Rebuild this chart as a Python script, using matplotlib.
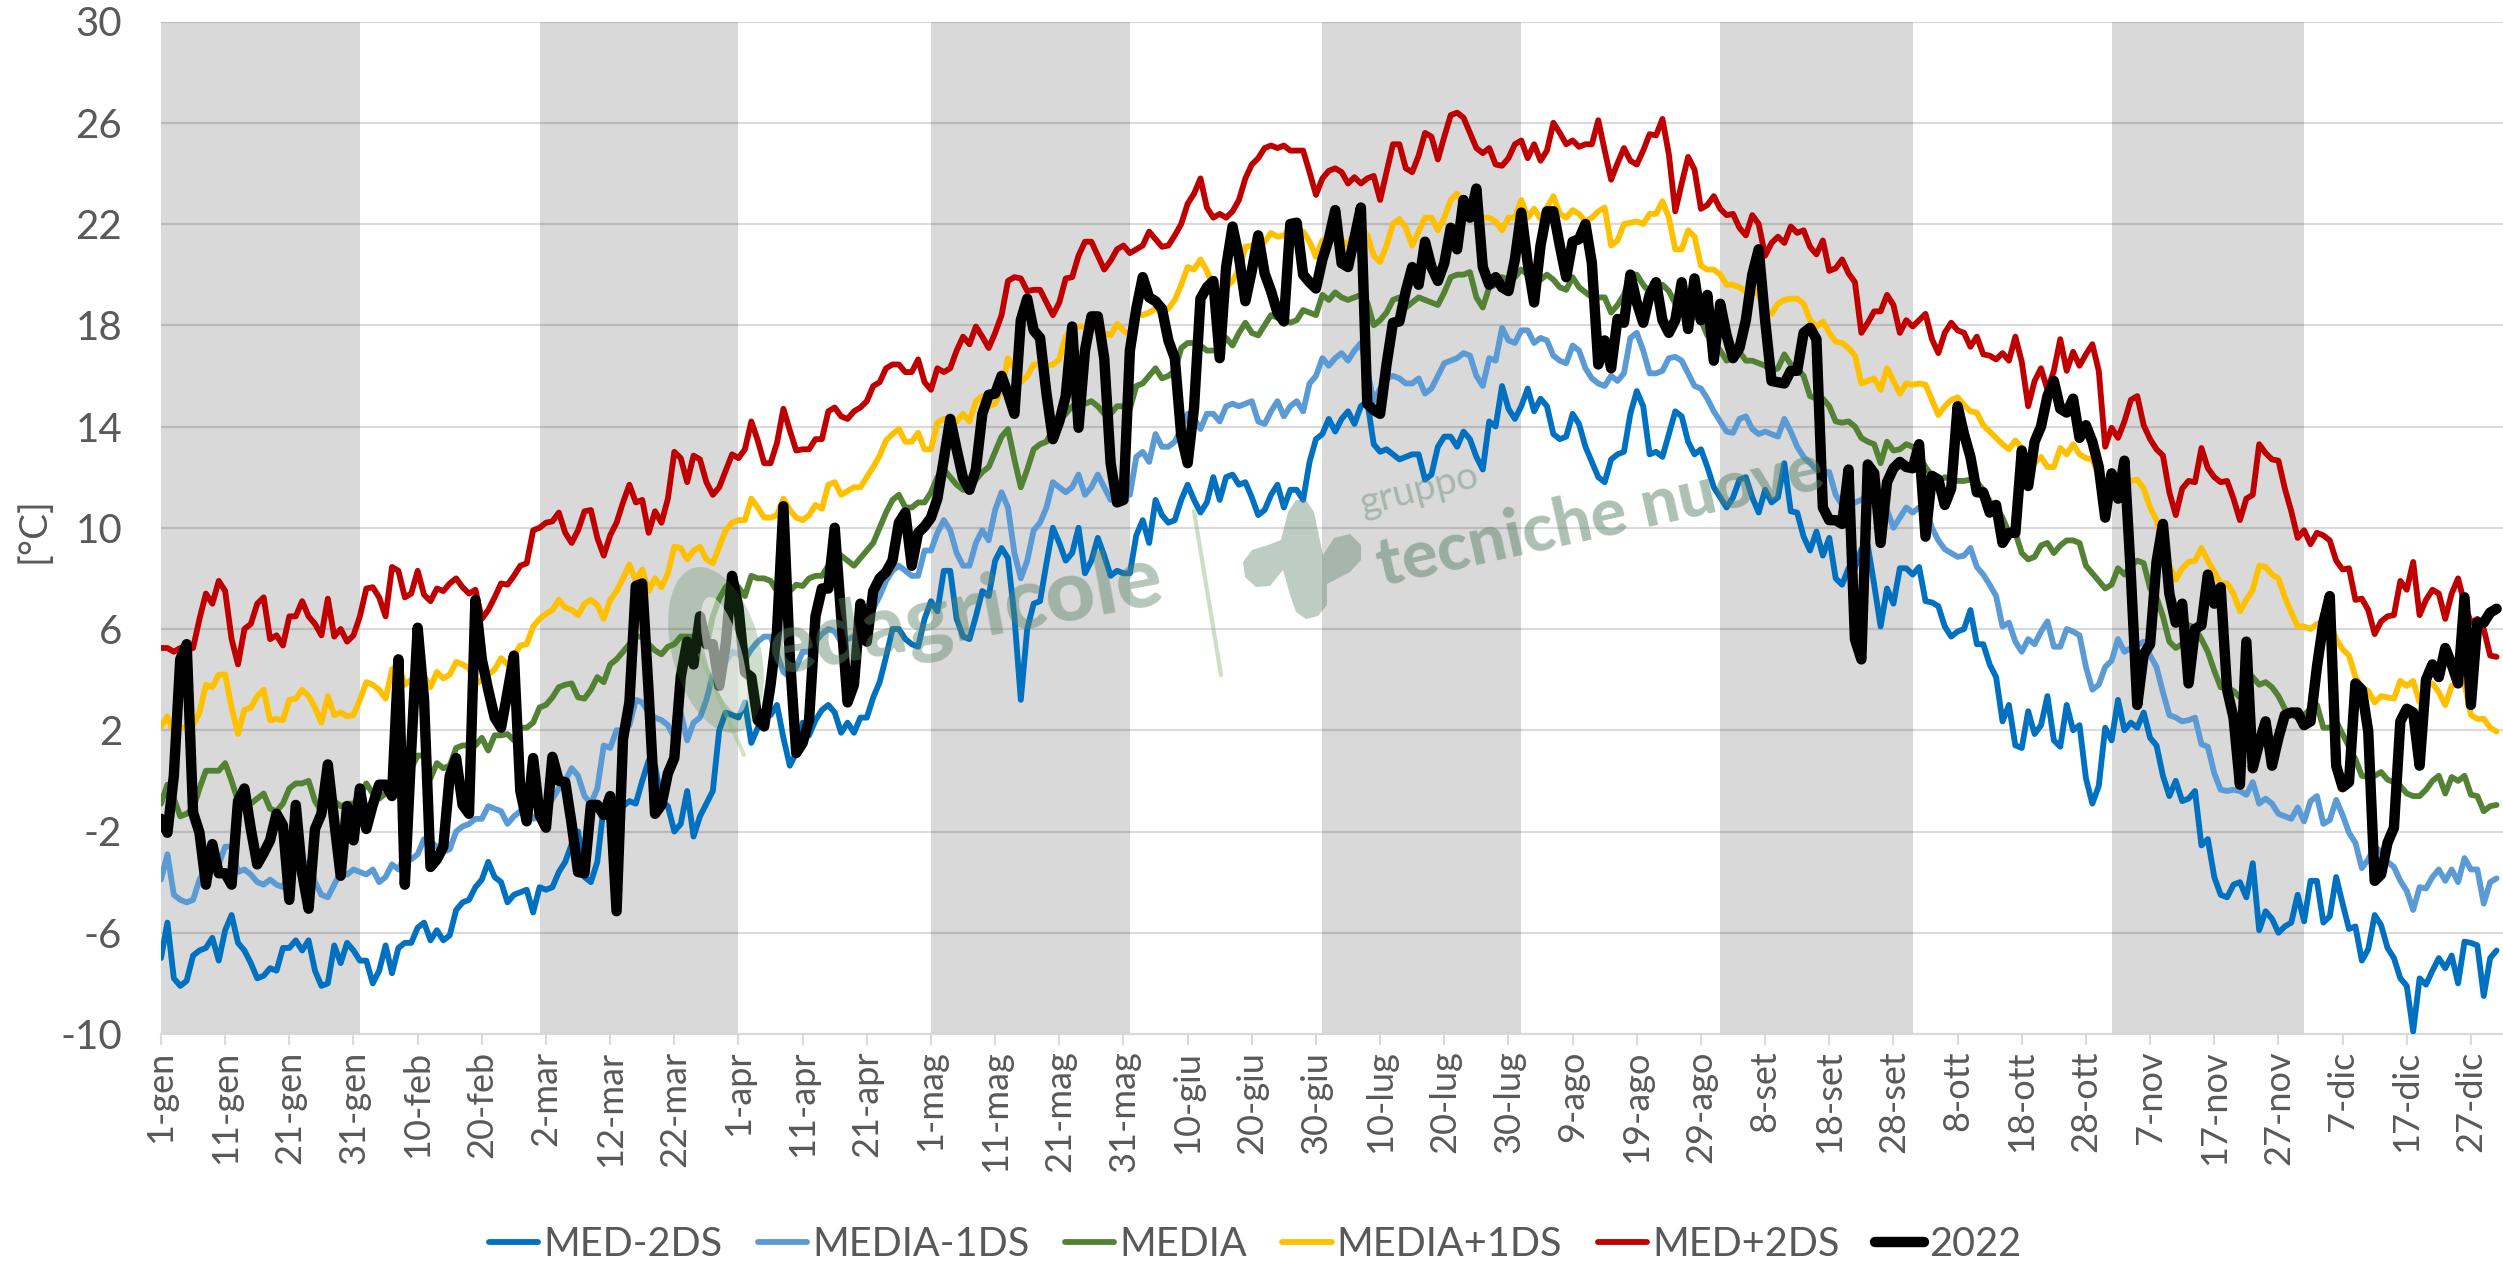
import matplotlib
matplotlib.use("Agg")
import matplotlib.pyplot as plt
from matplotlib.lines import Line2D
from matplotlib.patches import Ellipse, Polygon
from matplotlib.transforms import IdentityTransform

plt.rcParams['font.family'] = ['Lato', 'DejaVu Sans']
plt.rcParams['axes.unicode_minus'] = False

W, H = 2503, 1262
GREY = '#595959'

tick_labels = ['1-gen', '11-gen', '21-gen', '31-gen', '10-feb', '20-feb', '2-mar', '12-mar', '22-mar',
               '1-apr', '11-apr', '21-apr', '1-mag', '11-mag', '21-mag', '31-mag', '10-giu', '20-giu',
               '30-giu', '10-lug', '20-lug', '30-lug', '9-ago', '19-ago', '29-ago', '8-set', '18-set',
               '28-set', '8-ott', '18-ott', '28-ott', '7-nov', '17-nov', '27-nov', '7-dic', '17-dic', '27-dic']
y_ticks = [-10, -6, -2, 2, 6, 10, 14, 18, 22, 26, 30]

# first and last day of the shaded months (gen, mar, mag, lug, set, nov)
band_starts = [0, 59, 120, 181, 243, 304]
band_ends = [31, 90, 151, 212, 273, 334]

# one row = 10 days, each row starts on a tick label
med_m2 = [
    -7, -5.6, -7.8, -8.1, -7.9, -6.9, -6.7, -6.6, -6.2, -7.1,
    -5.9, -5.3, -6.4, -6.7, -7.2, -7.8, -7.7, -7.4, -7.5, -6.6,
    -6.6, -6.3, -6.7, -6.3, -7.5, -8.1, -8, -6.5, -7.2, -6.4,
    -6.7, -7.1, -7.1, -8, -7.5, -6.5, -7.6, -6.6, -6.4, -6.4,
    -5.8, -5.6, -6.3, -5.9, -6.3, -6.1, -5.1, -4.8, -4.7, -4.2,
    -3.9, -3.2, -3.8, -4, -4.8, -4.5, -4.4, -4.3, -5.2, -4.2,
    -4.3, -4.2, -3.6, -3.2, -2.5, -2, -3.8, -4, -3.2, -1,
    -1, -1, -1, -0.8, -0.9, 0, 0.8, 0.6, -0.8, -1,
    -2, -1.7, -0.4, -2.2, -1.4, -0.9, -0.4, 2, 2.7, 2.6,
    2.5, 3.1, 1.5, 2.1, 2.6, 2.6, 3, 1.7, 0.6, 1.1,
    2.3, 1.8, 2.4, 2.8, 3, 2.7, 1.9, 2.3, 1.9, 2.5,
    2.5, 3.3, 3.9, 4.9, 6, 6, 5.6, 5.4, 5.3, 6.4,
    7.1, 6.7, 8.3, 8.3, 6.4, 5.7, 5.6, 6.5, 7.5, 7.3,
    8.7, 9.2, 8.8, 6.5, 3.2, 6, 7, 7.1, 8.6, 10,
    9.4, 8.7, 9, 10, 8.2, 8.7, 9.6, 8.9, 8.1, 8.3,
    8.2, 8.2, 9.7, 10.3, 9.4, 11.1, 10.5, 10.2, 10.3, 11.1,
    11.7, 11.1, 10.6, 11, 12, 11.1, 12, 12.1, 11.7, 11.8,
    11.2, 10.5, 10.7, 11.3, 11.7, 10.8, 11.5, 11.5, 11.1, 12.6,
    13.5, 13.7, 14.3, 13.8, 14.3, 14.6, 14.1, 14.8, 15, 13.3,
    13, 13.1, 12.9, 12.7, 12.8, 12.9, 12.9, 11.9, 12.1, 13.2,
    13.6, 13.6, 13.2, 13.8, 13.5, 12.8, 12.3, 14.2, 14, 15.6,
    14.7, 14.3, 14.8, 15.5, 14.6, 15.1, 14.8, 13.7, 13.5, 13.6,
    14.5, 14.1, 13.2, 12.6, 12, 11.8, 12.7, 12.9, 13, 14.5,
    15.4, 14.8, 12.9, 13, 12.8, 13.7, 14.6, 14.4, 13.4, 12.9,
    13.1, 12.4, 11.6, 11.2, 10.8, 11.2, 11.9, 12, 11.2, 10.6,
    11.5, 11, 11.2, 12.55, 10.65, 10.6, 9.65, 9.1, 9.85, 8.9,
    9.6, 8, 7.75, 8.4, 8.4, 9.15, 9.3, 7.75, 6.1, 7.6,
    7, 8.4, 8.4, 8.15, 8.45, 7.1, 7.05, 6.9, 6.1, 5.7,
    5.9, 6, 6.75, 5.4, 5.4, 4.6, 4.1, 2.35, 3, 1.4,
    1.3, 2.75, 1.85, 2.2, 3.35, 1.6, 1.35, 3, 2, 2.2,
    0.1, -0.9, -0.2, 2.1, 1.6, 3.2, 2, 2.3, 2.1, 2.7,
    1.7, 1.4, 0.2, -0.6, 0, -0.8, -0.7, -0.4, -2.55, -2.3,
    -3.8, -4.5, -4.6, -4.1, -4, -4.6, -3.25, -5.9, -5.15, -5.45,
    -6, -5.75, -5.6, -4.5, -5.55, -3.95, -3.95, -5.6, -5.35, -3.8,
    -4.85, -5.85, -5.75, -7.1, -6.65, -5.3, -5.7, -6.6, -7, -7.8,
    -8.1, -9.9, -7.8, -8.05, -7.5, -7, -7.4, -6.9, -8, -6.35,
    -6.4, -6.5, -8.5, -7, -6.7]

media_m1 = [
    -3.9, -2.9, -4.5, -4.7, -4.8, -4.7, -3.9, -3.5, -3.3, -3.3,
    -2.6, -2.6, -3.6, -3.5, -3.7, -4, -4.1, -3.9, -4.1, -4.2,
    -3.6, -3.4, -3.6, -3.2, -4, -4.5, -4.6, -4.1, -3.6, -3.7,
    -3.5, -3.6, -3.7, -3.5, -4, -3.8, -3.3, -3.5, -3, -3.1,
    -2.9, -2.3, -2.4, -2.6, -2.8, -2.7, -2, -1.8, -1.7, -1.5,
    -1.5, -1, -1.1, -1.2, -1.7, -1.4, -1.2, -1.1, -1.5, -1.4,
    -1.2, -0.7, -0.3, 0, 0.5, 0.2, -0.6, -0.9, -0.3, 1.4,
    1.3, 2, 2, 2.2, 3.2, 3.1, 2.7, 2.5, 2.4, 2.2,
    1.7, 2.7, 1.6, 2.3, 2.5, 3.2, 4.2, 4.5, 4.7, 5.1,
    5, 4.8, 5.2, 5.5, 5.7, 5.7, 5, 4.3, 4.1, 4.5,
    5.1, 5.1, 5.5, 5.8, 6, 5.9, 5.5, 5.6, 5.7, 6,
    6.4, 6.8, 7.3, 7.9, 8.3, 8.5, 8.3, 8.1, 8.1, 9.1,
    9.1, 9.8, 10.3, 9.9, 9, 8.5, 8.5, 9.4, 9.9, 9.5,
    10.7, 11.4, 10.8, 9, 8, 8.7, 9.9, 10.2, 10.8, 11.8,
    11.6, 11.4, 11.6, 12.1, 11.3, 11.6, 12.1, 11.6, 11.1, 11.3,
    11.4, 11.3, 12.8, 13, 12.6, 13.7, 13.2, 13.2, 13.4, 13.9,
    14.5, 14.3, 13.9, 14.5, 14.5, 14.2, 14.8, 14.9, 14.8, 14.9,
    15, 14.2, 14.1, 14.6, 15, 14.4, 14.8, 15, 14.6, 15.7,
    16, 16.7, 16.4, 16.7, 16.9, 16.6, 17, 17.3, 16.2, 15,
    15.5, 15.9, 16, 15.9, 15.7, 15.7, 15.9, 15.3, 15.5, 16,
    16.5, 16.6, 16.7, 16.9, 16.8, 16, 15.6, 16.7, 16.6, 17.9,
    17.4, 17.3, 17.8, 17.8, 17.3, 17.5, 17.4, 16.8, 16.6, 16.5,
    17.2, 17, 16.3, 15.9, 15.7, 15.6, 16, 15.8, 16.1, 17.5,
    17.7, 17, 16.1, 16.1, 16.2, 16.7, 16.75, 16.6, 16.1, 15.6,
    15.5, 15.1, 14.6, 14.2, 13.8, 13.75, 14.3, 14.4, 13.9, 13.7,
    13.8, 13.7, 13.6, 14.3, 13.8, 13.2, 12.8, 12.55, 12.3, 12.2,
    12.2, 11.3, 10.9, 10.9, 11, 11.1, 11.3, 11.55, 11.15, 10.7,
    10, 10.4, 10.8, 10.6, 10.8, 10.8, 10, 9.5, 9.15, 9,
    8.85, 8.9, 9.2, 8.45, 8.15, 7.75, 7.3, 6.1, 6.25, 5.5,
    5.1, 5.6, 5.4, 5.9, 6.3, 5.3, 5.3, 6, 5.9, 5.75,
    4.5, 3.6, 3.8, 4.5, 4.75, 5.6, 5.1, 5.25, 5.35, 5.5,
    4.95, 4.5, 3.5, 2.6, 2.5, 2.35, 2.4, 2.5, 1.45, 1.35,
    0.3, -0.35, -0.4, -0.35, -0.4, -0.55, -0.05, -0.9, -0.7, -0.9,
    -1.3, -1.4, -1.5, -1.05, -1.6, -0.8, -0.6, -1.7, -1.55, -0.75,
    -1.35, -2.05, -2.45, -3.45, -3.1, -2.6, -2.8, -3.2, -3.4, -3.95,
    -4.35, -5.1, -4.2, -4.25, -3.8, -3.5, -3.95, -3.5, -4, -3.05,
    -3.5, -3.5, -4.85, -4, -3.85]

media = [
    -0.9, -0.15, -0.7, -1.4, -1.3, -1.1, -0.3, 0.4, 0.4, 0.4,
    0.7, 0, -0.8, -0.9, -0.9, -0.7, -0.5, -1.1, -1.2, -0.9,
    -0.3, -0.1, -0.1, 0, -0.8, -1.2, -0.7, -0.8, -1, -0.9,
    -0.9, -0.6, -0.1, -0.5, -0.7, -0.5, -0.3, -0.1, 0.2, 0.5,
    1, 1, 0.1, 0.7, 0.5, 0.6, 1.3, 1.4, 1.4, 1.4,
    1.7, 1.2, 1.8, 1.8, 1.85, 1.6, 2.1, 2.1, 2.3, 2.9,
    3, 3.3, 3.7, 3.8, 3.85, 3.3, 3.25, 3.6, 4.1, 3.9,
    4.6, 4.8, 5.1, 5.4, 5.7, 5.7, 5.4, 5.15, 5, 5.3,
    5.4, 5.7, 5.7, 5.7, 5.7, 5.3, 6.5, 7.2, 7.65, 7.9,
    7.65, 7.3, 8.1, 8, 8, 7.9, 7.5, 7.2, 7.5, 7.75,
    7.7, 8, 8.1, 8.1, 8.5, 9.1, 8.9, 8.7, 8.5, 8.8,
    9.1, 9.4, 10, 10.6, 11.1, 11.3, 10.8, 10.8, 11, 11,
    11.4, 12, 12.3, 12, 11.7, 11.5, 11.5, 11.9, 12.2, 12.4,
    13, 13.6, 13.9, 12.7, 11.6, 12.3, 13.1, 13.3, 13.4, 13.9,
    14.2, 14.5, 14.8, 14.8, 14.9, 15, 14.8, 14.5, 14.5, 14.8,
    14.8, 14.7, 15.6, 15.7, 16, 16.3, 15.9, 16, 16.2, 17.1,
    17.3, 17.3, 17.2, 17, 17, 17, 17.5, 17.2, 17.7, 18.1,
    17.7, 17.6, 18, 18.4, 18.3, 18.2, 18.1, 18.2, 18.6, 18.5,
    18.4, 19.2, 19, 19.3, 19.1, 19, 19.1, 19.2, 18.9, 18,
    18.2, 18.5, 19, 19.1, 18.7, 18.9, 19.1, 19, 18.9, 18.8,
    19.3, 19.9, 20, 20, 20.1, 19.1, 18.7, 19.5, 19.6, 19.9,
    19.8, 19.9, 20.2, 20, 19.8, 19.8, 20, 19.8, 19.5, 19.4,
    19.9, 19.5, 19.3, 19.1, 19.1, 19.1, 18.5, 18.8, 19.2, 20,
    20, 19.6, 19.3, 19.2, 19.6, 19.35, 18.85, 18.6, 18.35, 18.35,
    18.2, 17.6, 17.3, 17, 16.6, 16.7, 16.95, 16.6, 16.6, 16.5,
    16.4, 16.2, 16.3, 16.85, 16.45, 16.3, 16, 15.2, 15.1, 15.1,
    14.8, 14.2, 14.15, 14.2, 14, 13.55, 13.4, 13.3, 12.55, 13.4,
    13.05, 13.1, 13.3, 13.2, 12.85, 12.4, 12.05, 11.8, 12, 11.9,
    11.85, 11.85, 11.9, 11.8, 11.5, 11.05, 10.8, 10.4, 9.8, 9.8,
    9, 8.75, 8.85, 9.3, 9.4, 9, 9.3, 9.5, 9.5, 9.4,
    8.5, 8.2, 7.9, 7.6, 7.75, 8.4, 8.15, 8.5, 8.7, 8.6,
    7.6, 7.25, 6.5, 5.5, 5.25, 5.4, 6.15, 6.05, 5.6, 5.1,
    4.35, 3.7, 3.7, 3.55, 3.3, 3.8, 4.1, 3.8, 3.9, 3.7,
    3.35, 2.85, 2.6, 2.5, 2.6, 2.85, 3, 2.1, 2.1, 2.35,
    1.85, 1.35, 0.85, 0.2, 0.15, 0.2, 0.35, 0.05, -0.05, -0.2,
    -0.5, -0.6, -0.6, -0.35, 0, 0.2, -0.5, 0.15, 0, 0.2,
    -0.55, -0.6, -1.2, -1, -0.95]

media_p1 = [
    2.15, 2.55, 1.9, 2.1, 2.1, 2.2, 2.7, 3.8, 3.7, 4.2,
    4.2, 2.9, 1.85, 2.8, 2.9, 3.35, 3.6, 2.4, 2.45, 2.4,
    3.2, 3.25, 3.6, 3.35, 2.9, 2.3, 3.35, 2.6, 2.7, 2.55,
    2.6, 3.2, 3.9, 3.8, 3.6, 3.25, 4.4, 4.6, 3.8, 4,
    4.2, 4.15, 3.7, 4.3, 4.05, 4.2, 4.7, 4.6, 4.45, 3.8,
    4, 4.2, 4.4, 4.85, 4.6, 4.95, 5.35, 5.4, 6.1, 6.4,
    6.6, 6.75, 7.15, 6.85, 6.75, 6.55, 7, 7.15, 6.95, 6.4,
    7.15, 7.5, 8, 8.55, 7.9, 8.35, 7.5, 8, 7.65, 8.2,
    9.25, 9.2, 8.75, 9.1, 9.25, 8.75, 8.6, 9.25, 9.9, 10.2,
    10.3, 10.3, 11.15, 10.8, 10.4, 10.4, 10.5, 11.15, 10.7, 10.4,
    10.3, 10.5, 10.9, 10.75, 11.7, 11.8, 11.3, 11.45, 11.6, 11.6,
    12, 12.4, 12.85, 13.45, 13.7, 13.9, 13.4, 13.4, 13.75, 13.1,
    13.1, 14.15, 14.3, 14.3, 14.2, 14.5, 14.2, 15, 15.2, 14.8,
    14.9, 15.45, 16.7, 16.3, 15.75, 16, 16.45, 16.45, 16.4, 16.45,
    16.65, 17.55, 17.9, 17.95, 17.95, 17.8, 17.8, 17.7, 17.6, 18.05,
    17.8, 17.6, 18.5, 18.4, 18.5, 18.65, 18.5, 18.65, 19, 19.6,
    20.3, 20.2, 20.6, 20.15, 19.5, 19.4, 19.5, 19.75, 20.2, 21.1,
    21.15, 21.15, 21.3, 21.65, 21.5, 21.55, 21.85, 21.75, 21.7, 21.3,
    20.7, 21.35, 21.5, 21.55, 21.35, 21.15, 21.7, 21.85, 21.55, 20.75,
    20.5, 21.15, 22, 22.2, 21.85, 21.15, 21.7, 22.25, 22.25, 21.75,
    22.25, 22.95, 23.2, 22.7, 22.8, 22.4, 22.25, 22.25, 22.1, 21.75,
    22.25, 22.25, 22.95, 22.25, 22.6, 22.2, 22.65, 23.1, 22.4, 22.25,
    22.55, 22.4, 22.1, 22.25, 22.5, 22.65, 21.15, 21.35, 22, 22.05,
    22.1, 22, 22.4, 22.4, 22.9, 22.25, 21, 21, 21.75, 21.5,
    20.35, 20.2, 20.2, 20, 19.6, 19.6, 19.5, 19.35, 19.5, 19.2,
    18.55, 18.45, 18.85, 19, 19.05, 19.05, 18.85, 18.2, 17.95, 18.15,
    17.7, 17.35, 17.3, 17.1, 16.8, 15.7, 15.8, 15.9, 15.45, 16.3,
    15.8, 15.3, 15.7, 15.65, 15.7, 15.65, 15.05, 14.45, 14.8, 15.05,
    15.15, 14.85, 14.6, 14.55, 14.05, 13.8, 13.55, 13.3, 13.1, 13.45,
    13.15, 12.4, 12.55, 12.8, 12.4, 12.4, 13.15, 12.9, 13.3, 12.9,
    12.75, 12.7, 12.05, 11.55, 11.3, 11.4, 11.4, 11.85, 11.9, 11.55,
    10.8, 10.3, 9.15, 8.5, 7.95, 8.4, 8.65, 8.7, 9.2, 8.7,
    8.25, 7.8, 7.8, 7.4, 6.7, 7.15, 7.55, 8.5, 8.45, 8.15,
    8, 7.25, 6.65, 6.1, 6.1, 6, 6.2, 6.25, 6.25, 5.6,
    5.2, 4.95, 4.1, 3.7, 3.55, 3.1, 3.35, 3.3, 3.25, 3.95,
    3.75, 3.95, 3.1, 3.8, 3.85, 3.5, 3, 3.75, 3.85, 3.85,
    2.6, 2.45, 2.45, 2.1, 1.95]

med_p2 = [
    5.25, 5.25, 5.1, 5.25, 5.15, 5.25, 6.4, 7.4, 7, 7.9,
    7.5, 5.6, 4.6, 6, 6.2, 7, 7.25, 5.6, 5.75, 5.35,
    6.5, 6.5, 7.1, 6.5, 6.2, 5.75, 7.2, 5.7, 6, 5.5,
    5.75, 6.5, 7.6, 7.65, 7.25, 6.5, 8.45, 8.3, 7.25, 7.4,
    8.3, 7.35, 7.1, 7.6, 7.5, 7.8, 8, 7.65, 7.4, 7.55,
    6.4, 6.75, 7.25, 7.8, 7.75, 8.1, 8.5, 8.6, 9.9, 10,
    10.2, 10.25, 10.6, 9.8, 9.4, 9.9, 10.65, 10.7, 9.6, 8.9,
    9.7, 10.2, 11, 11.7, 11, 11.1, 9.8, 10.65, 10.2, 11.15,
    13, 12.75, 11.8, 12.85, 12.7, 11.8, 11.3, 11.6, 12.25, 12.9,
    12.75, 13.1, 14.2, 13.45, 12.55, 12.55, 13.35, 14.7, 13.85, 13.05,
    13.1, 13.1, 13.5, 13.5, 14.6, 14.75, 14.4, 14.3, 14.6, 14.75,
    15, 15.6, 15.75, 16.3, 16.45, 16.45, 16.15, 16.15, 16.65, 15.75,
    15.45, 16.3, 16.15, 16.3, 17, 17.55, 17.25, 17.95, 17.55, 17.1,
    17.7, 18.4, 19.75, 19.9, 19.85, 19.35, 19.4, 19.4, 18.9, 18.4,
    18.9, 19.85, 19.9, 20.75, 21.3, 21.3, 20.75, 20.2, 20.55, 21,
    21.15, 20.85, 21, 21.15, 21.7, 21.4, 21.1, 21.15, 21.55, 22,
    22.8, 23.2, 23.8, 22.65, 22.25, 22.4, 22.25, 22.5, 22.95, 23.8,
    24.35, 24.6, 25, 25.1, 25, 25.1, 24.9, 24.9, 24.9, 24.05,
    23.15, 23.8, 24.1, 24.2, 24.05, 23.6, 23.85, 23.6, 23.8, 23.9,
    22.95, 24.05, 25.15, 25.15, 24.2, 24.05, 24.7, 25.6, 25.45, 24.55,
    25.45, 26.3, 26.4, 26.2, 25.6, 25, 24.8, 25, 24.35, 24.3,
    24.6, 25.15, 25.3, 24.6, 25.15, 24.5, 24.9, 26, 25.6, 25.15,
    25.3, 25.05, 25.15, 25.15, 26.1, 24.9, 23.75, 24.4, 25, 24.5,
    24.35, 24.9, 25.55, 25.5, 26.15, 24.75, 22.5, 23.6, 24.65, 24.15,
    22.6, 22.75, 23.1, 22.6, 22.35, 22.4, 21.85, 21.55, 22.35, 22,
    20.75, 21.25, 21.5, 21.25, 21.9, 21.65, 21.75, 21.1, 20.8, 21.35,
    20.15, 20.25, 20.6, 20.05, 19.7, 17.7, 18.1, 18.55, 18.55, 19.2,
    18.8, 17.7, 18.2, 17.95, 18.2, 18.45, 17.45, 16.9, 17.7, 18.1,
    17.8, 17.7, 17.15, 17.55, 16.85, 16.8, 16.65, 16.9, 16.6, 17.55,
    16.55, 14.8, 15.8, 16.3, 15.45, 16.2, 17.45, 16.2, 16.95, 16.4,
    16.85, 17.25, 16.2, 13.2, 13.95, 13.55, 14.2, 15.05, 15.2, 14.05,
    13.5, 13.1, 12.85, 11.4, 10.5, 11.55, 11.85, 11.8, 13.15, 12.35,
    12, 11.8, 11.85, 11.15, 10.3, 11.15, 11.3, 13.3, 12.95, 12.7,
    12.65, 11.55, 10.65, 9.6, 9.9, 9.35, 9.8, 9.7, 9.5, 8.7,
    8.35, 8.4, 7.15, 7.2, 6.75, 5.8, 6.3, 6.5, 6.55, 7.9,
    7.55, 8.65, 6.55, 7.15, 7.55, 7.4, 6.4, 7.4, 8, 7,
    6.25, 6.4, 6, 4.95, 4.9]

y2022 = [
    -1.5, -2.05, 0.2, 4.8, 5.4, -1.25, -2.05, -4.1, -2.5, -3.65,
    -3.65, -4.1, -0.8, -0.3, -1.9, -3.3, -2.85, -2.35, -1.3, -1.75,
    -4.7, -0.95, -3.65, -5.05, -1.9, -1.3, 0.65, -1.6, -3.75, -1,
    -2.35, -0.3, -1.9, -0.95, -0.15, -0.15, -0.6, 4.8, -4.1, 1.2,
    6.05, 3.2, -3.4, -3.1, -2.6, 0.2, 0.9, -0.95, -1.3, 7.15,
    4.8, 3.6, 2.5, 2.1, 3.5, 4.95, -0.4, -1.6, 0.9, -1.35,
    -1.85, 0.95, 0, -0.05, -1.7, -3.6, -3.65, -0.95, -0.95, -1.35,
    -0.6, -5.15, 1.65, 3.1, 7.7, 7.8, 3.5, -1.3, -0.95, 0.3,
    0.9, 4.1, 5.5, 4.6, 6.5, 5.4, 5.4, 3.75, 5.4, 8.1,
    6.85, 4.3, 4.1, 2.4, 2.15, 3.8, 5.9, 10.85, 4.9, 1.1,
    1.5, 2.4, 6.5, 7.6, 7.6, 10, 6.5, 3.1, 3.8, 7,
    5.5, 7.5, 8, 8.25, 8.7, 10.2, 10.6, 8.5, 9.8, 10.05,
    10.4, 11.15, 12.7, 14.3, 13.1, 11.95, 11.5, 12.3, 14.5, 15.25,
    15.3, 16, 15.3, 14.5, 18.2, 19.05, 17.8, 17.5, 15.3, 13.5,
    14.2, 15.2, 17.95, 13.95, 17, 18.35, 18.35, 16.7, 12.55, 11,
    11.1, 17, 18.65, 19.9, 19.1, 18.95, 18.65, 17.4, 16.7, 13.65,
    12.55, 14.75, 19.05, 19.5, 19.75, 16.7, 20.3, 21.9, 20.7, 18.95,
    20.15, 21.55, 20.05, 19.35, 18.5, 18.15, 22, 22.05, 20, 19.7,
    19.45, 20.6, 21.4, 22.55, 20.45, 20.3, 21.45, 22.65, 14.9, 14.65,
    14.5, 16.45, 18.1, 18.15, 19.35, 20.3, 19.6, 21.3, 20.3, 19.75,
    20.45, 21.85, 21, 22.95, 22.25, 23.4, 20.3, 19.6, 19.9, 19.5,
    19.35, 20.6, 22.45, 20.45, 18.9, 21.15, 22.5, 22.5, 21.15, 19.9,
    21.3, 21.4, 22, 20.45, 16.45, 17.4, 16.3, 18.25, 18.1, 20,
    18.9, 18.1, 19.2, 19.7, 18.2, 17.7, 18.2, 19.7, 17.85, 19.85,
    18.2, 19.2, 16.6, 18.85, 17.6, 16.7, 17.1, 18.2, 20, 21,
    18.2, 15.8, 15.75, 15.7, 16.2, 16.2, 17.7, 17.9, 17.45, 10.8,
    10.3, 10.3, 10.15, 12.3, 5.6, 4.8, 12.5, 12.15, 9.4, 11.8,
    12.35, 12.6, 12.4, 12.35, 13.3, 9.65, 12.05, 11.9, 10.9, 11.55,
    14.8, 13.7, 12.8, 11.4, 11.4, 10.6, 10.9, 9.4, 9.8, 9.8,
    13.05, 11.65, 13.4, 14, 15.2, 15.8, 14.7, 14.55, 15.1, 13.55,
    14.05, 13.4, 12.4, 10.4, 12.15, 11.15, 12.65, 8.15, 3, 5,
    5.4, 8.65, 10.15, 7.4, 6.25, 7, 3.85, 6, 6.15, 8.15,
    7, 7.65, 3.6, 2.5, -0.15, 5.5, 0.5, 1.5, 2.35, 0.6,
    1.7, 2.6, 2.7, 2.7, 2.2, 2.35, 4.5, 6.25, 7.3, 0.6,
    -0.25, -0.05, 3.85, 3.6, 1.95, -3.95, -3.7, -2.45, -1.85, 2.35,
    2.85, 2.7, 0.6, 4, 4.6, 4.1, 5.25, 4.6, 3.85, 7.25,
    3, 6.25, 6.25, 6.65, 6.8]

series = [
    ('MED-2DS', med_m2, '#0070C0', 4.2),
    ('MEDIA-1DS', media_m1, '#5B9BD5', 4.2),
    ('MEDIA', media, '#548235', 4.2),
    ('MEDIA+1DS', media_p1, '#FFC000', 4.2),
    ('MED+2DS', med_p2, '#C00000', 4.2),
    ('2022', y2022, '#000000', 7.5),
]

fig = plt.figure(figsize=(W / 100, H / 100), dpi=100)
ax = fig.add_axes([161 / W, 1 - 1034 / H, 1 - 161 / W, (1034 - 21.5) / H])

for a, b in zip(band_starts, band_ends):
    ax.axvspan(a, b, color='#D9D9D9', lw=0, zorder=0.5)

for name, vals, col, lw in series:
    ax.plot(range(len(vals)), vals, color=col, lw=lw, label=name, zorder=3,
            solid_joinstyle='round', solid_capstyle='round')

ax.set_xlim(0, 365)
ax.set_ylim(-10, 30)
ax.set_yticks(y_ticks)
ax.set_xticks(range(0, 10 * len(tick_labels), 10))
ax.set_xticklabels(tick_labels, rotation=90, ha='center', va='top')
ax.tick_params(axis='x', colors='#D9D9D9', length=8, width=1.5, labelcolor=GREY, labelsize=26, pad=4)
ax.tick_params(axis='y', length=0, labelcolor=GREY, labelsize=29, pad=28)
ax.yaxis.grid(True, color='black', alpha=0.14, lw=1.6, zorder=1)
ax.set_axisbelow(True)
for s in ['top', 'right', 'left']:
    ax.spines[s].set_visible(False)
ax.spines['bottom'].set_color('#D9D9D9')
ax.spines['bottom'].set_linewidth(1.5)
ax.patch.set_visible(False)

fig.text(33 / W, 1 - 530 / H, '[°C]', rotation=90, color=GREY, fontsize=28, ha='center', va='center')

handles, labels = ax.get_legend_handles_labels()
leg = fig.legend(handles, labels, loc='center', bbox_to_anchor=(1255 / W, 1 - 1244 / H), ncol=6, frameon=False,
                 fontsize=28.5, labelcolor=GREY, handlelength=1.25, handletextpad=0.12, columnspacing=0.9)

# watermark, in pixels of the picture
GREEN = '#5C8269'
px = IdentityTransform()


def stroke(xs, ys, width, col=GREEN, alpha=0.4):
    fig.add_artist(Line2D(xs, [H - y for y in ys], transform=px, color=col, lw=width, alpha=alpha,
                          solid_capstyle='round', zorder=6))


fig.add_artist(Ellipse((716, H - 650), 88, 170, angle=15, transform=px, fc='#3E7D3A', ec='none', alpha=0.25, zorder=6))
fig.add_artist(Ellipse((724, H - 655), 36, 120, angle=15, transform=px, fc='white', ec='none', alpha=0.5, zorder=6))
stroke([700, 744], [655, 755], 3, '#8DBB7A', 0.4)
stroke([1194, 1221], [511, 675], 3, '#8DBB7A', 0.45)
logo = [(1288, 512), (1296, 500), (1306, 500), (1314, 512), (1323, 555), (1334, 538), (1350, 534), (1361, 545),
        (1361, 560), (1350, 572), (1327, 584), (1327, 605), (1318, 616), (1306, 619), (1296, 612), (1290, 595),
        (1283, 570), (1270, 586), (1256, 587), (1245, 577), (1243, 562), (1252, 550), (1268, 545), (1281, 540)]
fig.add_artist(Polygon([(x, H - y) for x, y in logo], closed=True, transform=px, fc=GREEN, ec='none', alpha=0.4,
                       zorder=6))
fig.text(966 / W, 1 - 615 / H, 'edagricole', rotation=10.5, color=GREEN, alpha=0.45, fontsize=62, fontweight='black',
         ha='center', va='center', zorder=6, rotation_mode='anchor')
fig.text(1600 / W, 1 - 518 / H, 'tecniche nuove', rotation=12.5, color=GREEN, alpha=0.5, fontsize=48,
         fontweight='black', ha='center', va='center', zorder=6, rotation_mode='anchor')
fig.text(1419 / W, 1 - 490 / H, 'gruppo', rotation=14, color=GREEN, alpha=0.4, fontsize=28,
         ha='center', va='center', zorder=6, rotation_mode='anchor')

fig.savefig('out.png', dpi=100)
